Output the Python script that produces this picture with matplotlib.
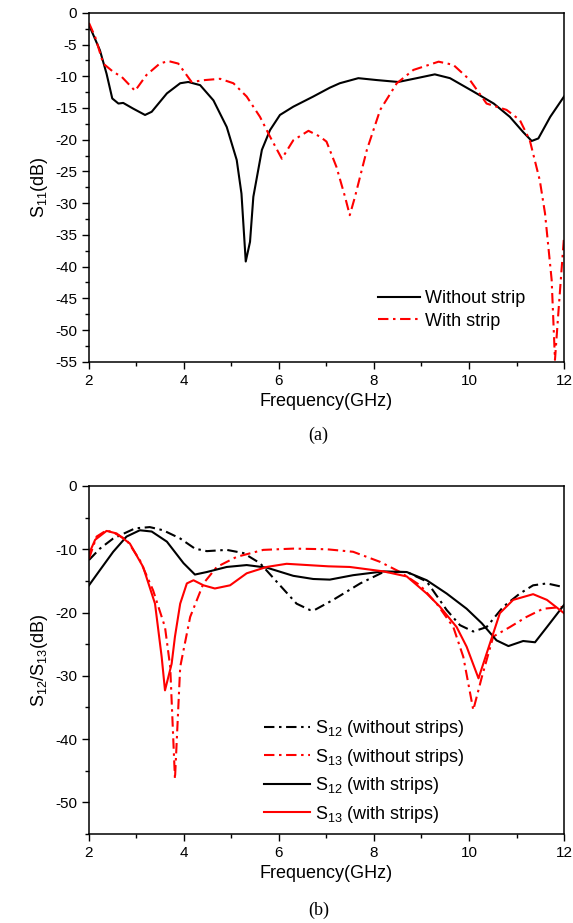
import matplotlib
matplotlib.use('Agg')
import matplotlib.pyplot as plt
import numpy as np

plt.rcParams['font.family'] = ['Liberation Sans', 'DejaVu Sans']
plt.rcParams['mathtext.fontset'] = 'custom'
plt.rcParams['mathtext.rm'] = 'Liberation Sans'
plt.rcParams['axes.unicode_minus'] = False

# ---- (a) S11 ----
f_a_without = [2.0, 2.23, 2.37, 2.49, 2.62, 2.72, 2.93, 3.18, 3.32, 3.64, 3.92, 4.09, 4.34, 4.62,
               4.90, 5.11, 5.21, 5.30, 5.39, 5.46, 5.64, 5.81, 6.02, 6.30, 6.72, 7.07, 7.28, 7.67,
               8.06, 8.51, 8.90, 9.28, 9.60, 10.09, 10.52, 10.86, 11.14, 11.32, 11.46, 11.71, 12.0]
s11_without = [-1.9, -5.9, -9.6, -13.5, -14.3, -14.2, -15.1, -16.1, -15.6, -12.7, -11.1, -10.9, -11.4, -13.8,
               -18.0, -23.2, -28.5, -39.2, -36.1, -29.0, -21.6, -18.5, -16.1, -14.8, -13.2, -11.8, -11.1, -10.3,
               -10.6, -10.9, -10.3, -9.7, -10.3, -12.4, -14.3, -16.4, -18.8, -20.2, -19.8, -16.4, -13.2]

f_a_with = [2.0, 2.13, 2.30, 2.51, 2.69, 2.97, 3.21, 3.49, 3.67, 3.88, 4.16, 4.44, 4.76, 5.04, 5.32,
            5.60, 5.81, 6.06, 6.30, 6.62, 6.86, 7.0, 7.21, 7.39, 7.49, 7.6, 7.85, 8.13, 8.48, 8.83,
            9.36, 9.67, 10.02, 10.37, 10.79, 11.07, 11.28, 11.49, 11.6, 11.74, 11.81, 11.88, 12.0]
s11_with = [-1.6, -3.8, -8.0, -9.3, -10.1, -12.3, -9.8, -8.0, -7.6, -8.0, -10.9, -10.6, -10.4, -11.1, -13.2,
            -16.4, -19.5, -23.0, -20.1, -18.6, -19.5, -20.3, -24.3, -29.0, -31.9, -29.0, -21.6, -15.3, -11.1, -9.0,
            -7.7, -8.2, -10.6, -14.3, -15.3, -16.9, -20.1, -26.4, -31.6, -42.1, -54.7, -47.4, -35.3]

# ---- (b) S12 / S13 ----
f_s12_wo = [2.0, 2.23, 2.51, 2.97, 3.28, 3.56, 3.92, 4.23, 4.48, 4.90, 5.25, 5.6, 6.02, 6.37, 6.65,
            6.75, 7.14, 7.71, 8.2, 8.69, 9.11, 9.53, 9.81, 10.09, 10.37, 10.72, 11.07, 11.35, 11.64, 12.0]
s12_wo = [-11.7, -9.9, -8.3, -6.7, -6.5, -7.0, -8.3, -9.9, -10.3, -10.1, -10.6, -12.2, -15.7, -18.6, -19.6,
          -19.6, -18.0, -15.4, -13.6, -13.6, -15.1, -19.6, -22.0, -23.0, -22.3, -19.1, -17.0, -15.7, -15.4, -16.0]

f_s13_wo = [2.0, 2.16, 2.37, 2.55, 2.79, 3.07, 3.35, 3.6, 3.71, 3.81, 3.92, 4.13, 4.41, 4.69, 5.11,
            5.67, 6.30, 7.0, 7.56, 8.13, 8.55, 8.97, 9.32, 9.67, 9.88, 10.09, 10.27, 10.51, 10.86, 11.21,
            11.56, 12.0]
s13_wo = [-11.5, -8.0, -7.0, -7.5, -8.5, -11.7, -16.5, -22.3, -28.6, -46.3, -28.6, -20.7, -15.4, -12.8, -11.2,
          -10.1, -9.9, -10.0, -10.4, -12.0, -13.6, -15.7, -18.6, -22.3, -27.0, -35.4, -30.2, -23.8, -22.3, -20.7,
          -19.4, -19.1]

f_s12_w = [2.0, 2.23, 2.51, 2.79, 3.07, 3.32, 3.64, 3.99, 4.23, 4.48, 4.90, 5.32, 5.74, 6.30, 6.72,
           7.07, 7.56, 8.2, 8.69, 9.11, 9.53, 9.95, 10.27, 10.58, 10.83, 11.14, 11.39, 11.64, 12.0]
s12_w = [-15.7, -13.3, -10.4, -8.0, -7.0, -7.2, -8.8, -12.2, -14.0, -13.6, -12.8, -12.5, -12.9, -14.2, -14.7,
         -14.8, -14.1, -13.5, -13.6, -14.9, -17.0, -19.4, -21.7, -24.4, -25.3, -24.5, -24.7, -22.3, -18.8]

f_s13_w = [2.0, 2.13, 2.37, 2.58, 2.86, 3.14, 3.39, 3.53, 3.6, 3.67, 3.74, 3.81, 3.92, 4.06, 4.2,
           4.41, 4.65, 4.97, 5.32, 5.74, 6.16, 7.04, 7.49, 8.2, 8.69, 9.11, 9.39, 9.74, 9.95, 10.2,
           10.37, 10.44, 10.65, 10.93, 11.35, 11.64, 12.0]
s13_w = [-10.7, -8.5, -7.1, -7.5, -9.1, -12.8, -18.6, -27.0, -32.3, -30.2, -28.1, -23.8, -18.6, -15.4, -14.9,
         -15.7, -16.2, -15.7, -13.8, -12.8, -12.3, -12.7, -12.8, -13.5, -14.3, -17.0, -19.1, -22.3, -25.4, -30.4,
         -26.5, -24.9, -20.1, -18.0, -17.1, -18.0, -20.1]

DASHDOT = (0, (5, 2.2, 1.2, 2.2))
LW = 1.5
FS_TICK = 11
FS_LABEL = 13


def style_axes(ax, major_y, minor_y):
    ax.set_xlim(2, 12)
    ax.set_ylim(-55, 0)
    ax.set_xticks(np.arange(2, 13, 2))
    ax.set_xticks(np.arange(2, 13, 1), minor=True)
    ax.set_yticks(np.arange(-55, 1, major_y))
    ax.set_yticks(np.arange(-55, 1, minor_y), minor=True)
    ax.tick_params(which='major', direction='out', length=5, width=1, labelsize=FS_TICK)
    ax.tick_params(which='minor', direction='out', length=3, width=1)
    for sp in ax.spines.values():
        sp.set_linewidth(1.1)
    ax.set_xlabel('Frequency(GHz)', fontsize=FS_LABEL, labelpad=4)


fig = plt.figure(figsize=(5.73, 9.23), dpi=100)
ax1 = fig.add_axes([0.1553, 0.6081, 0.829, 0.378])
ax2 = fig.add_axes([0.1553, 0.0964, 0.829, 0.3771])

ax1.plot(f_a_without, s11_without, color='black', lw=LW, label='Without strip')
ax1.plot(f_a_with, s11_with, color='red', lw=LW, linestyle=DASHDOT, label='With strip')
style_axes(ax1, 5, 2.5)
ax1.set_ylabel('S$_{11}$(dB)', fontsize=FS_LABEL)
ax1.legend(loc='lower left', bbox_to_anchor=(0.575, 0.045), frameon=False, fontsize=13,
           handlelength=2.3, handletextpad=0.3, labelspacing=0.3)

ax2.plot(f_s12_wo, s12_wo, color='black', lw=LW, linestyle=DASHDOT, label='S$_{12}$ (without strips)')
ax2.plot(f_s13_wo, s13_wo, color='red', lw=LW, linestyle=DASHDOT, label='S$_{13}$ (without strips)')
ax2.plot(f_s12_w, s12_w, color='black', lw=LW, label='S$_{12}$ (with strips)')
ax2.plot(f_s13_w, s13_w, color='red', lw=LW, label='S$_{13}$ (with strips)')
style_axes(ax2, 10, 5)
ax2.set_yticks(np.arange(-50, 1, 10))
ax2.set_ylabel('S$_{12}$/S$_{13}$(dB)', fontsize=FS_LABEL)
ax2.legend(loc='lower left', bbox_to_anchor=(0.335, -0.02), frameon=False, fontsize=13,
           handlelength=2.5, handletextpad=0.3, labelspacing=0.42)

fig.text(0.556, 0.528, '(a)', ha='center', va='center', fontsize=13, family='Liberation Serif')
fig.text(0.556, 0.014, '(b)', ha='center', va='center', fontsize=13, family='Liberation Serif')

fig.savefig('out.png', dpi=100)
